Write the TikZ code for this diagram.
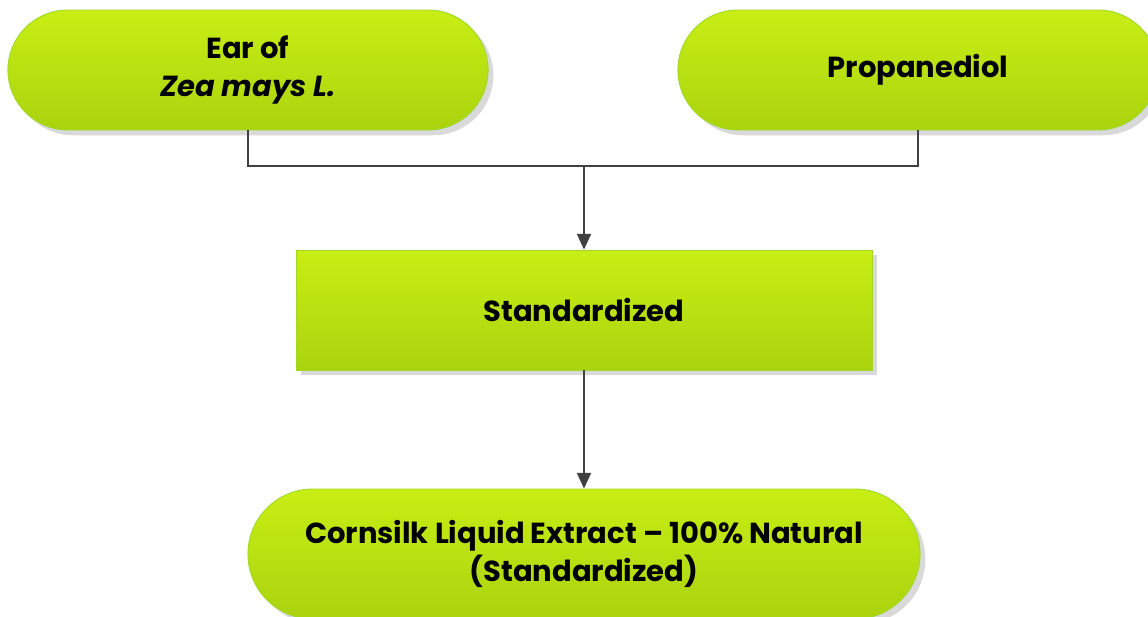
\documentclass[tikz,border=0pt]{standalone}
\usepackage{fontspec}
\setmainfont{Poppins}
\usetikzlibrary{shapes.misc,arrows.meta,shadows}

\definecolor{limetop}{HTML}{C8EE14}
\definecolor{limebot}{HTML}{ABD30E}
\definecolor{limeedge}{HTML}{9ED82A}
\definecolor{wire}{HTML}{404040}

\tikzset{
  pill/.style={rounded rectangle, draw=limeedge, line width=0.5pt,
    top color=limetop, bottom color=limebot, align=center,
    drop shadow={shadow xshift=3pt, shadow yshift=-3pt, fill=black!25, opacity=0.6},
    font=\fontsize{16.5}{22}\selectfont\bfseries},
  boxstep/.style={rectangle, draw=limeedge, line width=0.5pt,
    top color=limetop, bottom color=limebot, align=center,
    drop shadow={shadow xshift=3pt, shadow yshift=-3pt, fill=black!25, opacity=0.6},
    font=\fontsize{16.5}{22}\selectfont\bfseries},
  link/.style={wire, line width=1.2pt},
}

\begin{document}
\begin{tikzpicture}[x=0.02cm, y=-0.02cm]

  \useasboundingbox (0,0) rectangle (1148,617);

  % --- Inputs ---
  \node[pill, minimum width=9.84cm, minimum height=2.4cm] (ear) at (248,70)
    {Ear of\\\textit{Zea mays L.}};
  \node[pill, minimum width=9.84cm, minimum height=2.4cm] (propane) at (918,70)
    {Propanediol};

  % --- Process step ---
  \node[boxstep, minimum width=11.52cm, minimum height=2.4cm] (stdbox) at (584,310)
    {Standardized};

  % --- Product ---
  \node[pill, minimum width=13.68cm, minimum height=2.6cm] (extract) at (584,554)
    {Cornsilk Liquid Extract -- 100\% Natural\\(Standardized)};

  % --- Connectors ---
  \coordinate (merge) at (584,166);
  \draw[link] (ear.south) |- (merge) -| (propane.south);
  \draw[link, -{Triangle[length=9pt, width=8pt]}] (merge) -- (stdbox.north);
  \draw[link, -{Triangle[length=9pt, width=8pt]}] (stdbox.south) -- (extract.north);

\end{tikzpicture}
\end{document}
